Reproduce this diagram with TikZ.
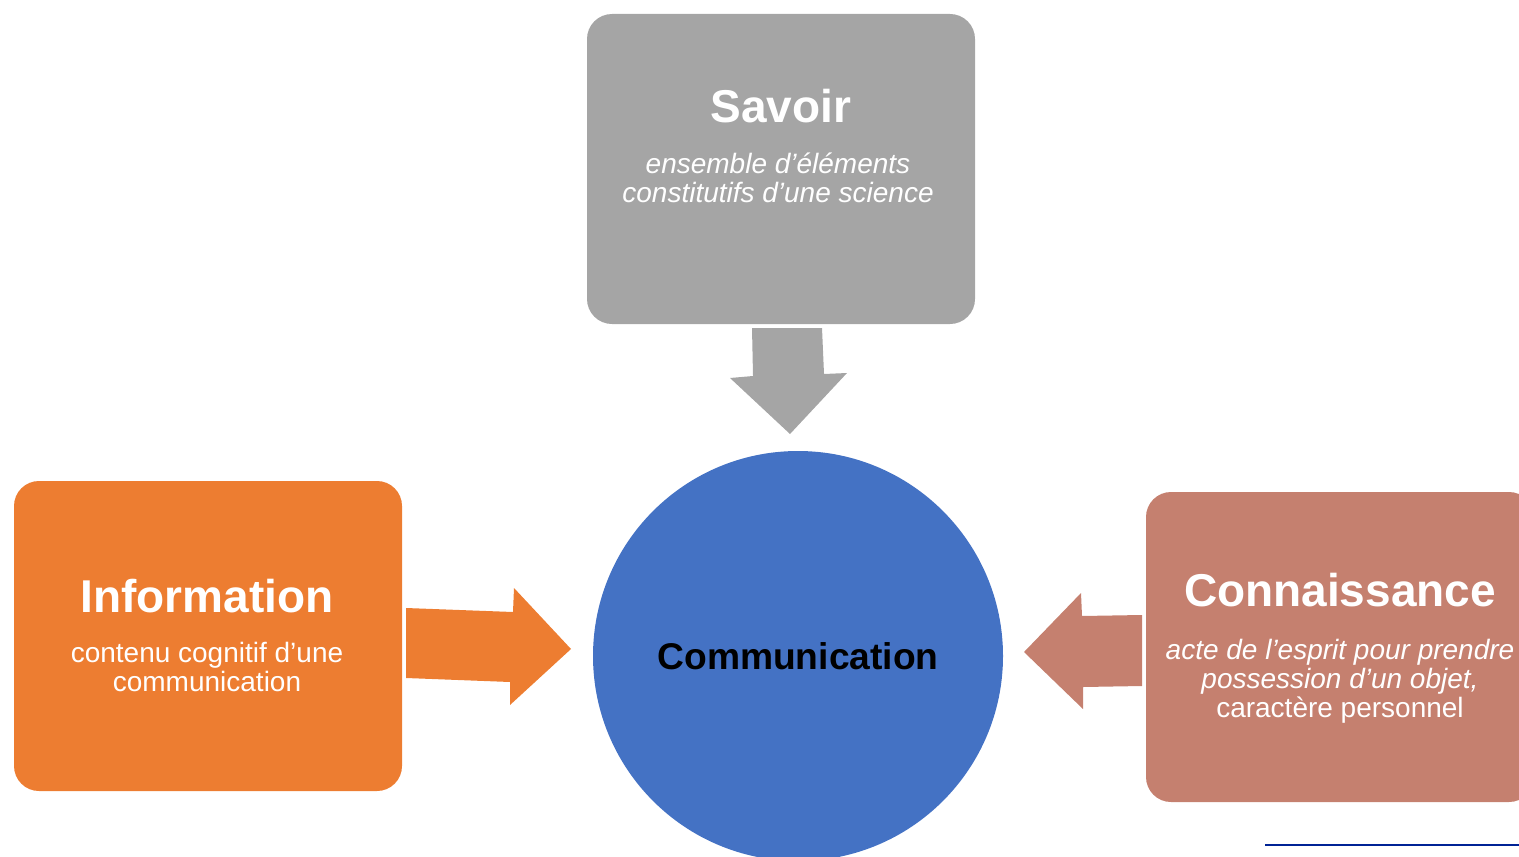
\documentclass[tikz,border=0pt]{standalone}
\usepackage{fontspec}
\setmainfont{Liberation Sans}
\usetikzlibrary{positioning}
\definecolor{savoirgray}{HTML}{A5A5A5}
\definecolor{infoorange}{HTML}{ED7D31}
\definecolor{commblue}{HTML}{4472C4}
\definecolor{connbrown}{HTML}{C5806F}
\definecolor{linenavy}{HTML}{002395}
\tikzset{
    box/.style={rounded corners=12.5pt, minimum width=194pt, minimum height=155pt, inner sep=0pt}, % les trois cadres
    title/.style={text=white, font=\fontsize{23}{27}\selectfont\bfseries, anchor=base, inner sep=0pt}, % titre du cadre
    desc/.style={text=white, font=\fontsize{14}{14.5}\selectfont, align=center, anchor=base, inner sep=0pt} % texte sous le titre (base = derniere ligne)
}

\begin{document}
\begin{tikzpicture}[x=0.5pt, y=-0.5pt]

    \useasboundingbox (0,0) rectangle (1519,856);
    \clip (0,0) rectangle (1519,856);

    % cadres et cercle
    \node[box, fill=savoirgray] (savoir) at (781,169) {};
    \node[box, fill=infoorange] (info) at (208,636) {};
    \node[box, fill=connbrown] (conn) at (1340,647) {};
    \node[circle, fill=commblue, minimum size=205pt, inner sep=0pt] (comm) at (798,656) {};

    % fleches
    \fill[savoirgray] (752,328) -- (822,328) -- (824,374) -- (847,373) -- (790,434) -- (730,378) -- (753,376) -- cycle;
    \fill[infoorange] (406,608) -- (513,612) -- (514,588) -- (571,649) -- (510,705) -- (510,682) -- (406,678) -- cycle;
    \fill[connbrown] (1142,615) -- (1082,616) -- (1081,593) -- (1024,652) -- (1083,709) -- (1083,687) -- (1142,686) -- cycle;

    % textes
    \node[title] (savoir title) at (781,123) {Savoir};
    \node[desc, font=\fontsize{14}{14.5}\selectfont\itshape] (savoir desc) at (778,202) {ensemble d’éléments\\constitutifs d’une science};
    \node[title] (info title) at (207,612) {Information};
    \node[desc] (info desc) at (207,691) {contenu cognitif d’une\\communication};
    \node[title] (conn title) at (1340,606) {Connaissance};
    \node[desc] (conn desc) at (1340,717) {\itshape acte de l’esprit pour prendre\\\itshape possession d’un objet,\\caractère personnel};
    \node[title, text=black, font=\fontsize{18.6}{22}\selectfont\bfseries] (comm title) at (798,669) {Communication};

    \draw[linenavy, line width=1pt] (1265,845) -- (1519,845);
\end{tikzpicture}
\end{document}
